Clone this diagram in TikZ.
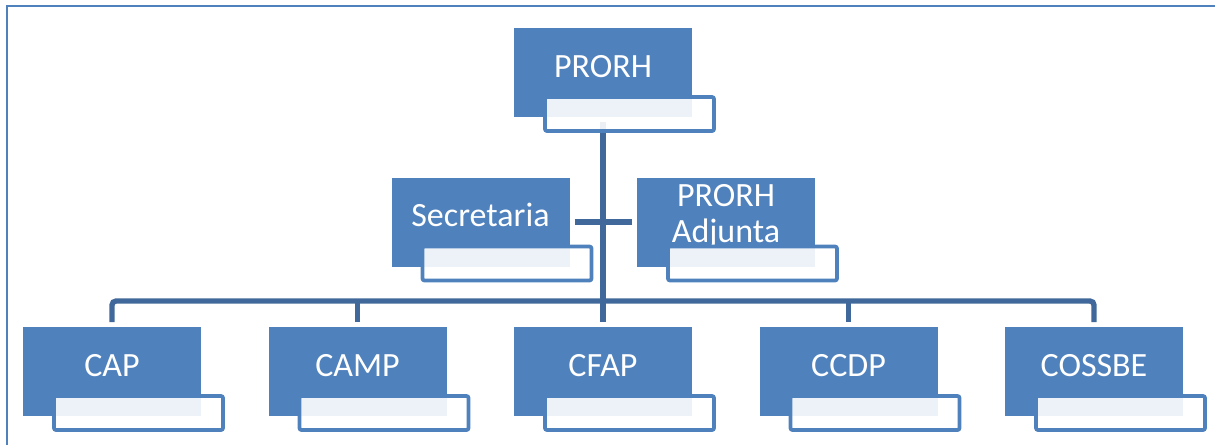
\documentclass[tikz,border=0pt]{standalone}
\usepackage{fontspec}
\setmainfont{Carlito}
\usetikzlibrary{calc}
\definecolor{unitblue}{RGB}{79,129,189}
\definecolor{linkblue}{RGB}{65,104,154}
\begin{document}
\begin{tikzpicture}[x=0.75pt, y=-0.75pt,
    unit/.style={fill=unitblue, text=white, inner sep=0pt, outer sep=0pt,
      minimum width=133.5pt, minimum height=66.75pt,
      font=\fontsize{25.5}{26.5}\selectfont, text height=15pt, text depth=8.25pt},
    tab/.style={draw=unitblue, line width=2.8pt, rounded corners=1.5pt, fill=white, fill opacity=0.9},
    link/.style={draw=linkblue, line width=4pt}]
    \useasboundingbox (0,0) rectangle (1215,444);
    % frame
    \draw[unitblue, line width=1.1pt] (7,460) |- (1230,6);

    % Define the nodes
    \node[unit] (prorh) at (603,72.5) {PRORH};
    \node[unit] (secr) at (480.5,222) {Secretaria};
    \node[unit, align=center, text height=30pt, text depth=0pt] (adj) at (726,222) {PRORH\\Adjunta};
    \node[unit] (cap) at (112,371.5) {CAP};
    \node[unit] (camp) at (357.5,371.5) {CAMP};
    \node[unit] (cfap) at (603,371.5) {CFAP};
    \node[unit] (ccdp) at (848.5,371.5) {CCDP};
    \node[unit] (cossbe) at (1094,371.5) {COSSBE};

    % Draw the edges
    \coordinate (bar) at ($(cfap.north)+(0,-26)$);
    \draw[link] ($(prorh.south)+(0,5)$) -- ($(cfap.north)+(0,-5)$);
    \draw[link, rounded corners=3pt] ($(cap.north)+(0,-5)$) |- (bar) -| ($(cossbe.north)+(0,-5)$);
    \draw[link] ($(camp.north)+(0,-5)$) -- (camp.north |- bar);
    \draw[link] ($(ccdp.north)+(0,-5)$) -- (ccdp.north |- bar);
    \draw[link] ($(secr.east)+(5,0)$) -- ($(adj.west)+(-5,0)$);

    % lower tabs
    \foreach \n in {prorh,secr,adj,cap,camp,cfap,ccdp,cossbe}
      \draw[tab] ($(\n.south west)+(31,-20)$) rectangle ++(169,34);
\end{tikzpicture}
\end{document}
